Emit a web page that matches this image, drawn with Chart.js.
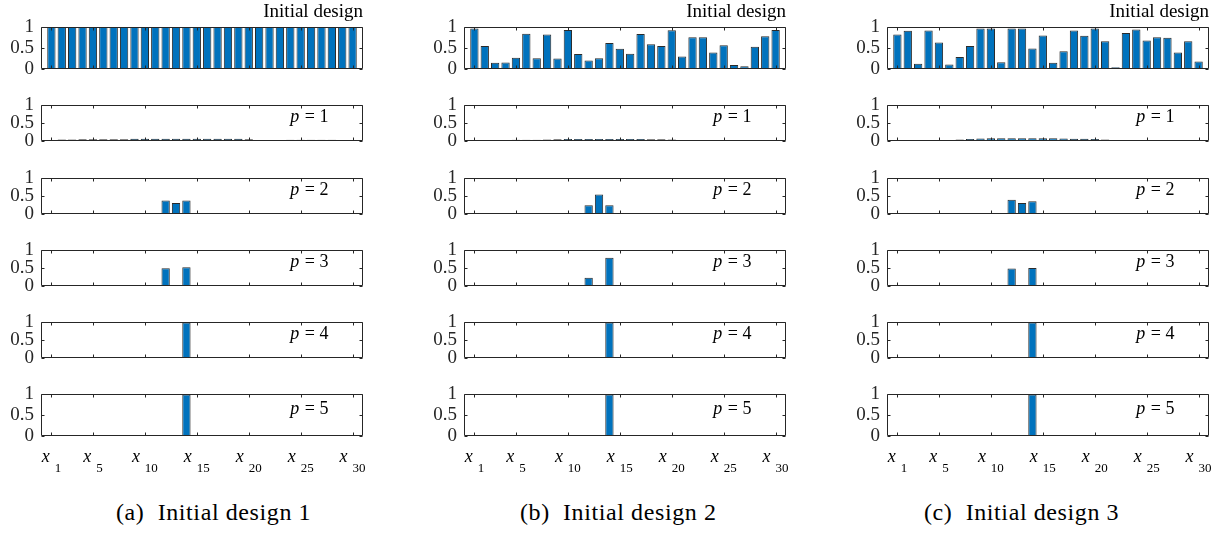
<!DOCTYPE html>
<html>
<head>
<meta charset="utf-8">
<script src="https://cdn.jsdelivr.net/npm/chart.js@4.4.1/dist/chart.umd.min.js"></script>
<style>
  html, body { margin: 0; padding: 0; background: #fff; }
  body { width: 1224px; height: 551px; position: relative; overflow: hidden; }
  canvas { position: absolute; }
  .caption { position: absolute; top: 500px; font-family: "Liberation Serif", "Times New Roman", Times, serif; font-size: 24px; line-height: 24px; letter-spacing: 0.6px; color: #000; white-space: nowrap; }
</style>
</head>
<body>
<div class="caption" style="left:116px">(a)&nbsp; Initial design 1</div>
<div class="caption" style="left:520px">(b)&nbsp; Initial design 2</div>
<div class="caption" style="left:924px">(c)&nbsp; Initial design 3</div>
<script>
// variable index, one bar per design variable
const positions = [1,2,3,4,5,6,7,8,9,10,11,12,13,14,15,16,17,18,19,20,21,22,23,24,25,26,27,28,29,30];
const xTickValues = [1, 5, 10, 15, 20, 25, 30];
const rowLabels = ["Initial design", "p = 1", "p = 2", "p = 3", "p = 4", "p = 5"];

// design 1
const d1Init = [1,1,1,1,1,1,1,1,1,1,1,1,1,1,1,1,1,1,1,1,1,1,1,1,1,1,1,1,1,1];
const d1P1 = [0.02,0.03,0.03,0.035,0.035,0.035,0.035,0.04,0.05,0.055,0.055,0.055,0.055,0.055,0.055,0.055,0.055,0.05,0.05,0.04,0.01,0.005,0.01,0.025,0.025,0.025,0.025,0.025,0.02,0.015];
const d1P2 = [0,0,0,0,0,0,0,0,0,0,0,0.37,0.30,0.37,0,0,0,0,0,0,0,0,0,0,0,0,0,0,0,0];
const d1P3 = [0,0,0,0,0,0,0,0,0,0,0,0.49,0,0.52,0,0,0,0,0,0,0,0,0,0,0,0,0,0,0,0];
const d1P4 = [0,0,0,0,0,0,0,0,0,0,0,0,0,1,0,0,0,0,0,0,0,0,0,0,0,0,0,0,0,0];
const d1P5 = [0,0,0,0,0,0,0,0,0,0,0,0,0,1,0,0,0,0,0,0,0,0,0,0,0,0,0,0,0,0];

// design 2
const d2Init = [0.965,0.545,0.14,0.147,0.26,0.84,0.25,0.82,0.245,0.93,0.35,0.196,0.25,0.615,0.475,0.357,0.83,0.587,0.545,0.923,0.29,0.755,0.755,0.385,0.56,0.084,0.056,0.524,0.776,0.93];
const d2P1 = [0.01,0.02,0.02,0.02,0.025,0.025,0.025,0.03,0.035,0.045,0.045,0.045,0.045,0.045,0.045,0.045,0.045,0.04,0.035,0.03,0.01,0.005,0.005,0.01,0.015,0.02,0.02,0.02,0.02,0.015];
const d2P2 = [0,0,0,0,0,0,0,0,0,0,0,0.24,0.54,0.24,0,0,0,0,0,0,0,0,0,0,0,0,0,0,0,0];
const d2P3 = [0,0,0,0,0,0,0,0,0,0,0,0.225,0,0.79,0,0,0,0,0,0,0,0,0,0,0,0,0,0,0,0];
const d2P4 = [0,0,0,0,0,0,0,0,0,0,0,0,0,1,0,0,0,0,0,0,0,0,0,0,0,0,0,0,0,0];
const d2P5 = [0,0,0,0,0,0,0,0,0,0,0,0,0,1,0,0,0,0,0,0,0,0,0,0,0,0,0,0,0,0];

// design 3
const d3Init = [0.818,0.909,0.119,0.916,0.63,0.098,0.28,0.545,0.965,0.965,0.154,0.965,0.965,0.483,0.797,0.14,0.42,0.916,0.79,0.965,0.657,0.035,0.853,0.937,0.678,0.755,0.741,0.39,0.657,0.168];
const d3P1 = [0.002,0.003,0.005,0.008,0.012,0.02,0.03,0.045,0.06,0.065,0.065,0.065,0.065,0.065,0.065,0.065,0.06,0.055,0.05,0.045,0.03,0.01,0.005,0.003,0.003,0.008,0.01,0.012,0.012,0.01];
const d3P2 = [0,0,0,0,0,0,0,0,0,0,0,0.39,0.30,0.35,0,0,0,0,0,0,0,0,0,0,0,0,0,0,0,0];
const d3P3 = [0,0,0,0,0,0,0,0,0,0,0,0.486,0,0.50,0,0,0,0,0,0,0,0,0,0,0,0,0,0,0,0];
const d3P4 = [0,0,0,0,0,0,0,0,0,0,0,0,0,1,0,0,0,0,0,0,0,0,0,0,0,0,0,0,0,0];
const d3P5 = [0,0,0,0,0,0,0,0,0,0,0,0,0,1,0,0,0,0,0,0,0,0,0,0,0,0,0,0,0,0];

const columns = [
  [d1Init, d1P1, d1P2, d1P3, d1P4, d1P5],
  [d2Init, d2P1, d2P2, d2P3, d2P4, d2P5],
  [d3Init, d3P1, d3P2, d3P3, d3P4, d3P5]
];

// layout of the subplot grid (pixels)
const colLeft = [41, 464, 887];
const rowTop = [27, 99, 172, 244, 316, 388];
const plotW = 322, plotH = 48, axisW = 40, padRight = 6;
const axisColor = "#262626";
const serif = "'Liberation Serif', 'Times New Roman', Times, serif";

// MATLAB-like box, inward ticks, labels
const matlabAxes = {
  id: "matlabAxes",
  afterDatasetsDraw(chart, args, opts) {
    const ctx = chart.ctx, a = chart.chartArea;
    const x = chart.scales.x, y = chart.scales.y;
    const L = Math.round(a.left) + 0.5, R = Math.round(a.right) - 0.5;
    const T = Math.round(a.top) + 0.5, B = Math.round(a.bottom) - 0.5;
    ctx.save();
    ctx.strokeStyle = axisColor;
    ctx.lineWidth = 1;
    ctx.beginPath();
    ctx.rect(L, T, R - L, B - T);
    xTickValues.forEach(v => {
      const px = Math.round(x.getPixelForValue(v)) + 0.5;
      ctx.moveTo(px, B); ctx.lineTo(px, B - 3);
      ctx.moveTo(px, T); ctx.lineTo(px, T + 3);
    });
    [0, 0.5, 1].forEach(v => {
      const py = Math.round(y.getPixelForValue(v)) + 0.5;
      ctx.moveTo(L, py); ctx.lineTo(L + 3, py);
      ctx.moveTo(R, py); ctx.lineTo(R - 3, py);
    });
    ctx.stroke();

    ctx.fillStyle = "#000";
    if (opts.title) {
      ctx.font = "19px " + serif;
      ctx.textAlign = "right";
      ctx.textBaseline = "alphabetic";
      ctx.fillText(opts.title, a.right, a.top - 10);
    }
    if (opts.pLabel) {
      // italic p, upright "= n"
      const px = x.getPixelForValue(24), py = y.getPixelForValue(0.65);
      ctx.textAlign = "left";
      ctx.textBaseline = "middle";
      ctx.font = "italic 18px " + serif;
      ctx.fillText("p", px, py);
      const w = ctx.measureText("p ").width;
      ctx.font = "18px " + serif;
      ctx.fillText("= " + opts.pLabel, px + w + 1, py);
    }
    if (opts.xLabels) {
      xTickValues.forEach(v => {
        const px = x.getPixelForValue(v);
        ctx.font = "italic 18px " + serif;
        const wx = ctx.measureText("x").width;
        ctx.font = "13px " + serif;
        const ws = ctx.measureText(String(v)).width;
        const start = px - (wx + 5 + ws) / 2;
        ctx.textAlign = "left";
        ctx.textBaseline = "alphabetic";
        ctx.font = "italic 18px " + serif;
        ctx.fillText("x", start, a.bottom + 26);
        ctx.font = "13px " + serif;
        ctx.fillText(String(v), start + wx + 5, a.bottom + 36);
      });
    }
    ctx.restore();
  }
};

columns.forEach((rows, c) => {
  rows.forEach((values, r) => {
    const padTop = r === 0 ? 27 : 12;
    const padBottom = r === 5 ? 48 : 12;
    const canvas = document.createElement("canvas");
    canvas.width = axisW + plotW + padRight;
    canvas.height = padTop + plotH + padBottom;
    canvas.style.left = (colLeft[c] - axisW) + "px";
    canvas.style.top = (rowTop[r] - padTop) + "px";
    document.body.appendChild(canvas);

    new Chart(canvas.getContext("2d"), {
      type: "bar",
      data: {
        datasets: [{
          data: positions.map((p, i) => ({ x: p, y: values[i] })),
          backgroundColor: "#0072BD",
          borderColor: "#2b2b2b",
          borderWidth: 1,
          categoryPercentage: 1,
          barPercentage: 0.8
        }]
      },
      options: {
        responsive: false,
        animation: false,
        devicePixelRatio: 1,
        layout: { padding: { top: padTop, bottom: padBottom, left: 0, right: padRight } },
        plugins: {
          legend: { display: false },
          tooltip: { enabled: false },
          matlabAxes: {
            title: r === 0 ? rowLabels[0] : null,
            pLabel: r > 0 ? String(r) : null,
            xLabels: r === 5
          }
        },
        scales: {
          x: { type: "linear", min: 0, max: 31, offset: false, display: false },
          y: {
            min: 0, max: 1,
            ticks: {
              stepSize: 0.5, autoSkip: false, padding: 7, color: axisColor,
              font: { family: serif, size: 19 },
              callback: v => String(v)
            },
            grid: { display: false, drawTicks: false },
            border: { display: false },
            afterFit(s) { s.width = axisW; }
          }
        }
      },
      plugins: [matlabAxes]
    });
  });
});
</script>
</body>
</html>
